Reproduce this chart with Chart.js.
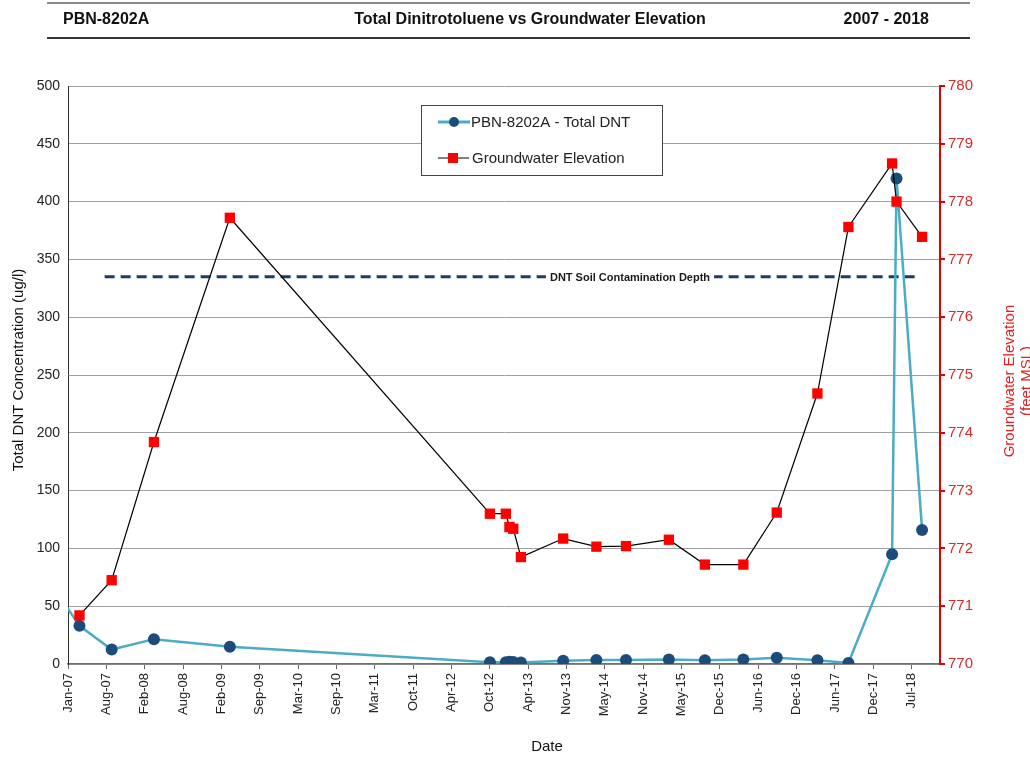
<!DOCTYPE html>
<html>
<head>
<meta charset="utf-8">
<title>PBN-8202A - Total Dinitrotoluene vs Groundwater Elevation</title>
<script src="https://cdn.jsdelivr.net/npm/chart.js@4.4.1/dist/chart.umd.min.js"></script>
<style>
  html, body { margin: 0; padding: 0; background: #fff; }
  #wrap { position: relative; width: 1030px; height: 757px; overflow: hidden; font-family: 'Liberation Sans', Arial, sans-serif; }
  #chart { position: absolute; left: 0; top: 0; }
  .rule { position: absolute; left: 47px; width: 923px; }
  .rule.top { top: 2px; border-top: 2px solid #8a8a8a; }
  .rule.bottom { top: 37px; border-top: 2px solid #333; }
  .hdr { position: absolute; top: 10px; font-weight: bold; font-size: 16px; line-height: 18px; color: #111; white-space: nowrap; }
</style>
</head>
<body>
<div id="wrap">
  <canvas id="chart" width="1030" height="757"></canvas>
  <div class="rule top"></div>
  <div class="hdr" style="left:63px">PBN-8202A</div>
  <div class="hdr" style="left:230px;width:600px;text-align:center">Total Dinitrotoluene vs Groundwater Elevation</div>
  <div class="hdr" style="right:101px">2007 - 2018</div>
  <div class="rule bottom"></div>
</div>
<script>
// ── Data ──
const tickLabels = ['Jan-07', 'Aug-07', 'Feb-08', 'Aug-08', 'Feb-09', 'Sep-09', 'Mar-10', 'Sep-10',
  'Mar-11', 'Oct-11', 'Apr-12', 'Oct-12', 'Apr-13', 'Nov-13', 'May-14', 'Nov-14', 'May-15',
  'Dec-15', 'Jun-16', 'Dec-16', 'Jun-17', 'Dec-17', 'Jul-18'];

// first sample is before the axis start, the line into the plot is clipped
const dntDates = ['2006-09-01', '2007-03-20', '2007-08-27', '2008-03-24', '2009-04-05', '2012-10-18',
  '2013-01-05', '2013-01-23', '2013-02-11', '2013-03-21', '2013-10-17', '2014-03-31', '2014-08-25',
  '2015-03-26', '2015-09-21', '2016-03-30', '2016-09-12', '2017-04-02', '2017-09-03', '2018-04-08',
  '2018-04-30', '2018-09-04'];
const dntValues = [85, 33, 12.5, 21.5, 15, 1.5, 1.5, 2, 1.8, 1.2, 2.9, 3.5, 3.5, 4, 3.2, 4, 5.5, 3.2, 0.9, 95, 420, 116];

const elevDates = ['2007-03-20', '2007-08-27', '2008-03-24', '2009-04-05', '2012-10-18', '2013-01-05',
  '2013-01-23', '2013-02-11', '2013-03-21', '2013-10-17', '2014-03-31', '2014-08-25', '2015-03-26',
  '2015-09-21', '2016-03-30', '2016-09-12', '2017-04-02', '2017-09-03', '2018-04-08', '2018-04-30',
  '2018-09-04'];
const elevValues = [770.84, 771.45, 773.84, 777.72, 772.6, 772.6, 772.37, 772.34, 771.85, 772.17, 772.03,
  772.04, 772.15, 771.72, 771.72, 772.62, 774.68, 777.56, 778.66, 778.0, 777.39];

const soilDepthDates = ['2007-07-23', '2018-08-05'];
const soilDepthValue = 335;
const soilDepthLabel = 'DNT Soil Contamination Depth';
const soilDepthLabelDate = '2014-09-14';

const axisStart = '2007-01-22';
const axisEnd = '2018-12-02';
const tickStepDays = 190.5;

// ── Helpers ──
const DAY = 86400000;
const toMs = s => Date.parse(s + 'T00:00:00Z');
const FONT = "'Liberation Sans', Arial, sans-serif";
const TEAL = '#4bacc6';
const NAVY = '#1c4d7a';
const RED = '#ff0000';

const pts = (dates, vals) => dates.map((d, i) => ({ x: toMs(d), y: vals[i] }));

// legend, dashed-line caption and axis titles
const decor = {
  id: 'decor',
  afterDraw(chart) {
    const { ctx, scales } = chart;
    ctx.save();

    // caption on the soil depth line
    ctx.font = 'bold 11px ' + FONT;
    const lx = scales.x.getPixelForValue(toMs(soilDepthLabelDate));
    const ly = scales.y.getPixelForValue(soilDepthValue);
    const tw = ctx.measureText(soilDepthLabel).width;
    ctx.fillStyle = '#fff';
    ctx.fillRect(lx - tw / 2 - 4, ly - 7, tw + 8, 14);
    ctx.fillStyle = '#1a1a1a';
    ctx.textAlign = 'center';
    ctx.textBaseline = 'middle';
    ctx.fillText(soilDepthLabel, lx, ly + 1);

    // legend box
    ctx.fillStyle = '#fff';
    ctx.fillRect(421, 105, 241, 70);
    ctx.strokeStyle = '#444';
    ctx.lineWidth = 1;
    ctx.strokeRect(421.5, 105.5, 241, 70);

    ctx.strokeStyle = TEAL;
    ctx.lineWidth = 3;
    ctx.beginPath(); ctx.moveTo(438, 122); ctx.lineTo(470, 122); ctx.stroke();
    ctx.fillStyle = NAVY;
    ctx.beginPath(); ctx.arc(454, 122, 5, 0, Math.PI * 2); ctx.fill();

    ctx.strokeStyle = '#000';
    ctx.lineWidth = 1;
    ctx.beginPath(); ctx.moveTo(438, 158); ctx.lineTo(469, 158); ctx.stroke();
    ctx.fillStyle = RED;
    ctx.fillRect(448, 153, 10, 10);

    ctx.fillStyle = '#222';
    ctx.font = '15px ' + FONT;
    ctx.textAlign = 'left';
    ctx.fillText('PBN-8202A - Total DNT', 471, 123);
    ctx.fillText('Groundwater Elevation', 472, 159);

    // axis titles
    ctx.textAlign = 'center';
    ctx.fillStyle = '#111';
    ctx.font = '15px ' + FONT;
    ctx.fillText('Date', 547, 747);

    ctx.save();
    ctx.translate(19, 370);
    ctx.rotate(-Math.PI / 2);
    ctx.fillText('Total DNT Concentration (ug/l)', 0, 0);
    ctx.restore();

    ctx.save();
    ctx.translate(1010, 381);
    ctx.rotate(-Math.PI / 2);
    ctx.fillStyle = '#e02020';
    ctx.fillText('Groundwater Elevation', 0, 0);
    ctx.fillText('(feet MSL)', 0, 17);
    ctx.restore();

    ctx.restore();
  }
};

new Chart(document.getElementById('chart'), {
  type: 'line',
  data: {
    datasets: [{
      label: 'Groundwater Elevation',
      data: pts(elevDates, elevValues),
      yAxisID: 'y2',
      order: 0,
      borderColor: '#000',
      borderWidth: 1.2,
      pointStyle: 'rect',
      pointRadius: 7.3,
      pointBackgroundColor: RED,
      pointBorderColor: RED,
      pointBorderWidth: 0,
      tension: 0,
    }, {
      label: 'PBN-8202A - Total DNT',
      data: pts(dntDates, dntValues),
      yAxisID: 'y',
      order: 1,
      borderColor: TEAL,
      borderWidth: 2.5,
      pointRadius: 6,
      pointBackgroundColor: NAVY,
      pointBorderColor: NAVY,
      pointBorderWidth: 0,
      tension: 0,
    }, {
      label: soilDepthLabel,
      data: soilDepthDates.map(d => ({ x: toMs(d), y: soilDepthValue })),
      yAxisID: 'y',
      order: 2,
      borderColor: '#1f3b63',
      borderWidth: 3,
      borderDash: [10, 6],
      pointRadius: 0,
    }],
  },
  options: {
    responsive: false,
    devicePixelRatio: 1,
    animation: false,
    layout: { padding: { top: 86, left: 0, right: 0, bottom: 0 } },
    plugins: {
      legend: { display: false },
      tooltip: { enabled: false },
    },
    scales: {
      x: {
        type: 'linear',
        min: toMs(axisStart),
        max: toMs(axisEnd),
        afterBuildTicks: (scale) => {
          scale.ticks = tickLabels.map((_, i) => ({ value: toMs(axisStart) + i * tickStepDays * DAY }));
        },
        afterFit: (scale) => { scale.height = 93; },
        ticks: {
          autoSkip: false,
          maxRotation: 90,
          minRotation: 90,
          padding: 4,
          color: '#222',
          font: { family: FONT, size: 13 },
          callback: (v, i) => tickLabels[i],
        },
        grid: { drawOnChartArea: false, drawTicks: true, tickLength: 5, color: '#666' },
        border: { color: '#707070', width: 1.5 },
      },
      y: {
        position: 'left',
        min: 0,
        max: 500,
        afterFit: (scale) => { scale.width = 68; },
        ticks: { stepSize: 50, padding: 8, color: '#222', font: { family: FONT, size: 14 } },
        grid: { color: '#a0a0a0', lineWidth: 1, drawTicks: false },
        border: { color: '#333', width: 1 },
      },
      y2: {
        position: 'right',
        min: 770,
        max: 780,
        afterFit: (scale) => { scale.width = 90; },
        ticks: { stepSize: 1, padding: 3, color: '#d42b2b', font: { family: FONT, size: 15 } },
        grid: { drawOnChartArea: false, drawTicks: true, tickLength: 5, color: '#e00000', lineWidth: 2 },
        border: { color: '#e00000', width: 2 },
      },
    },
  },
  plugins: [decor],
});
</script>
</body>
</html>
